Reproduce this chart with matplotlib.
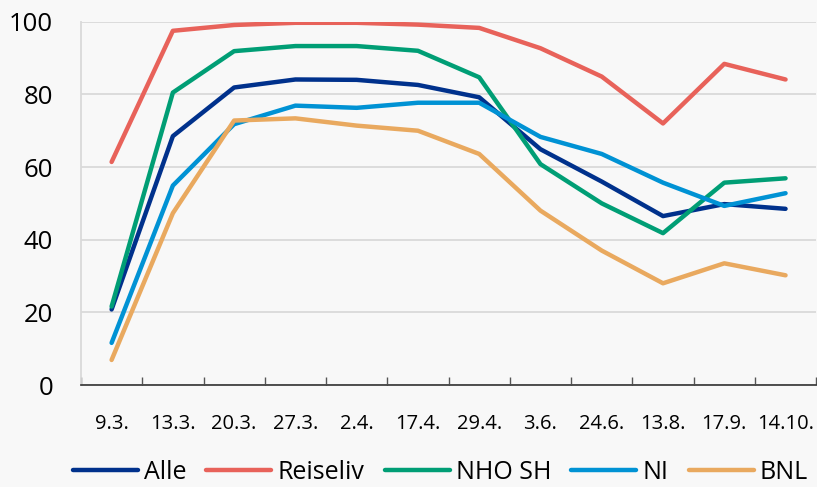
import numpy as np
from matplotlib import pyplot as plt

dates = ["9.3.", "13.3.", "20.3.", "27.3.", "2.4.", "17.4.", "29.4.",
         "3.6.", "24.6.", "13.8.", "17.9.", "14.10."]

alle = [20.8, 68.5, 81.9, 84.1, 84.0, 82.6, 79.2, 64.9, 56.0, 46.5, 49.8, 48.5]
reiseliv = [61.4, 97.5, 99.1, 99.7, 99.7, 99.2, 98.3, 92.7, 84.9, 72.0, 88.4, 84.1]
nho_sh = [21.6, 80.5, 91.9, 93.3, 93.3, 92.0, 84.7, 60.8, 50.0, 41.8, 55.7, 56.9]
ni = [11.6, 54.9, 71.8, 76.9, 76.3, 77.7, 77.7, 68.3, 63.6, 55.7, 49.3, 52.8]
bnl = [6.9, 47.3, 72.8, 73.4, 71.4, 70.0, 63.6, 48.0, 37.0, 28.0, 33.5, 30.2]

series = [
    ("Alle", alle, "#00318c"),
    ("Reiseliv", reiseliv, "#e8625a"),
    ("NHO SH", nho_sh, "#009e75"),
    ("NI", ni, "#0092d4"),
    ("BNL", bnl, "#e9a95f"),
]

plt.rcParams['font.family'] = ['Open Sans', 'DejaVu Sans']
bg = "#f8f8f8"

fig = plt.figure(figsize=(8.17, 4.87), dpi=100, facecolor=bg)
ax = fig.add_axes([0.0991, 0.2094, 0.8999, 0.746], facecolor=bg)

x = np.arange(len(dates))
for name, vals, color in series:
    ax.plot(x, vals, color=color, lw=3.2, label=name, solid_capstyle="round")

ax.set_xlim(-0.5, len(dates) - 0.5)
ax.set_ylim(0, 100)
ax.set_yticks(range(0, 101, 20))
ax.grid(axis="y", color="#d9d9d9", lw=1.3)
ax.set_axisbelow(True)

ax.set_xticks(x)
ax.set_xticklabels(dates, fontsize=14.5)
ax.set_xticks(np.arange(-0.5, len(dates)), minor=True)
ax.tick_params(axis="x", which="major", length=0, pad=21)
ax.tick_params(axis="x", which="minor", direction="in", length=6, width=1, color="#555555")
ax.tick_params(axis="y", length=0, pad=20, labelsize=18.5)

for s in ["top", "right"]:
    ax.spines[s].set_visible(False)
ax.spines["left"].set_color("#d9d9d9")
ax.spines["left"].set_linewidth(1.3)
ax.spines["bottom"].set_color("#333333")
ax.spines["bottom"].set_linewidth(1.2)

fig.legend(loc="center", bbox_to_anchor=(0.539, 0.03), ncol=5, frameon=False,
           fontsize=18, handlelength=2.6, handletextpad=0.25, columnspacing=0.8)

fig.savefig("out.png", dpi=100, facecolor=bg)
